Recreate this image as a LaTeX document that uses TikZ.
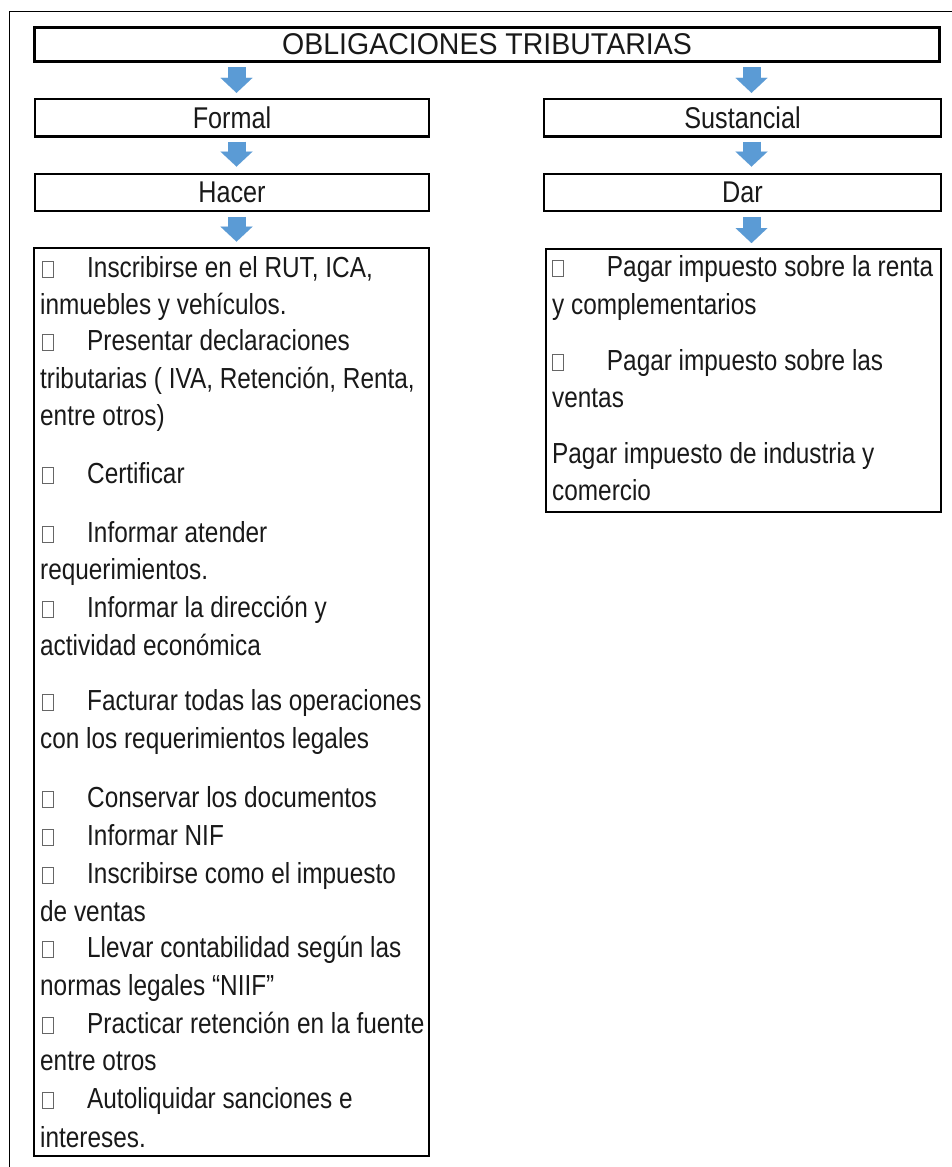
\documentclass[tikz,border=0pt]{standalone}
\usepackage{fontspec}
\setmainfont{Liberation Sans}[FakeStretch=0.84]
\newfontfamily\headfont{Liberation Sans}[FakeStretch=0.95]
\usetikzlibrary{arrows.meta}
\definecolor{arrowblue}{RGB}{91,155,213}
\definecolor{ink}{RGB}{25,25,25}
% empty glyph box used as the list bullet
\newcommand\tofu{\textcolor{black!60}{\fboxsep=0pt\fboxrule=0.9pt\fbox{\rule{0pt}{15.5pt}\hspace{9.5pt}}}}
\newcommand\bul[1][45pt]{\makebox[#1][l]{\tofu}}
\begin{document}
\begin{tikzpicture}[x=1pt,y=-1pt,
  boxed/.style={draw=black, line width=#1, inner sep=0pt, text=ink,
    font=\fontsize{30}{32}\selectfont},
  boxed/.default=2.4pt,
  txt/.style={anchor=base west, inner sep=0pt, text=ink,
    font=\fontsize{29}{31}\selectfont},
  flow/.style={draw=arrowblue, line width=18pt,
    -{Triangle[width=32pt,length=15pt,line width=0.01pt]}}
]
\useasboundingbox (0,0) rectangle (952,1167);
\fill[white] (0,0) rectangle (952,1167);
% page frame
\draw[line width=1.6pt] (9.5,1167) -- (9.5,11.5) -- (952,11.5);

% header and the two branches
\node[boxed=3.5pt, minimum width=905pt, minimum height=34pt,
  font=\headfont\fontsize{30}{32}\selectfont] (title) at (487,44.5) {OBLIGACIONES TRIBUTARIAS};
\node[boxed, minimum width=394pt, minimum height=37.5pt] (formal) at (232,117.75) {Formal};
\node[boxed, minimum width=394pt, minimum height=37.5pt] (hacer) at (232,192.5) {Hacer};
\node[boxed, minimum width=397pt, minimum height=37.5pt] (sust) at (742.5,117.75) {Sustancial};
\node[boxed, minimum width=397pt, minimum height=37.5pt] (dar) at (742.5,192.5) {Dar};

% list frames
\node[boxed=2.8pt, minimum width=395pt, minimum height=908pt] (hlist) at (231.5,702) {};
\node[boxed=2pt, minimum width=395pt, minimum height=263pt] (dlist) at (743.5,380.5) {};

% arrows
\draw[flow, shorten <=4pt, shorten >=5pt] ([xshift=4.5pt]formal.north |- title.south) -- ([xshift=4.5pt]formal.north);
\draw[flow, shorten <=4pt, shorten >=6pt] ([xshift=4.5pt]formal.south) -- ([xshift=4.5pt]hacer.north);
\draw[flow, shorten <=4.5pt, shorten >=5pt] ([xshift=4.5pt]hacer.south) -- ([xshift=4.5pt]hlist.north -| hacer.north);
\draw[flow, shorten <=4pt, shorten >=5pt] ([xshift=9pt]sust.north |- title.south) -- ([xshift=9pt]sust.north);
\draw[flow, shorten <=4pt, shorten >=6pt] ([xshift=9pt]sust.south) -- ([xshift=9pt]dar.north);
\draw[flow, shorten <=4.5pt, shorten >=5pt] ([xshift=9pt]dar.south) -- ([xshift=9pt]dlist.north -| dar.north);

% formal obligations
\node[txt] (h1a) at (42,277) {\bul Inscribirse en el RUT, ICA,};
\node[txt] (h1b) at (40,314) {inmuebles y vehículos.};
\node[txt] (h2a) at (42,350) {\bul Presentar declaraciones};
\node[txt] (h2b) at (40,388) {tributarias ( IVA, Retención, Renta,};
\node[txt] (h2c) at (40,425) {entre otros)};
\node[txt] (h3a) at (42,483) {\bul Certificar};
\node[txt] (h4a) at (42,542) {\bul Informar atender};
\node[txt] (h4b) at (40,579) {requerimientos.};
\node[txt] (h5a) at (42,617) {\bul Informar la dirección y};
\node[txt] (h5b) at (40,655) {actividad económica};
\node[txt] (h6a) at (42,710) {\bul Facturar todas las operaciones};
\node[txt] (h6b) at (40,748) {con los requerimientos legales};
\node[txt] (h7a) at (42,807) {\bul Conservar los documentos};
\node[txt] (h8a) at (42,845) {\bul Informar NIF};
\node[txt] (h9a) at (42,883) {\bul Inscribirse como el impuesto};
\node[txt] (h9b) at (40,921) {de ventas};
\node[txt] (h10a) at (42,957) {\bul Llevar contabilidad según las};
\node[txt] (h10b) at (40,995) {normas legales “NIIF”};
\node[txt] (h11a) at (42,1033) {\bul Practicar retención en la fuente};
\node[txt] (h11b) at (40,1070) {entre otros};
\node[txt] (h12a) at (42,1108) {\bul Autoliquidar sanciones e};
\node[txt] (h12b) at (40,1147) {intereses.};

% substantive obligations
\node[txt] (d1a) at (552,276) {\bul[48pt] Pagar impuesto sobre la renta};
\node[txt] (d1b) at (552,314) {y complementarios};
\node[txt] (d2a) at (552,370) {\bul[48pt] Pagar impuesto sobre las};
\node[txt] (d2b) at (552,407) {ventas};
\node[txt] (d3a) at (552,463) {Pagar impuesto de industria y};
\node[txt] (d3b) at (552,500) {comercio};
\end{tikzpicture}
\end{document}
